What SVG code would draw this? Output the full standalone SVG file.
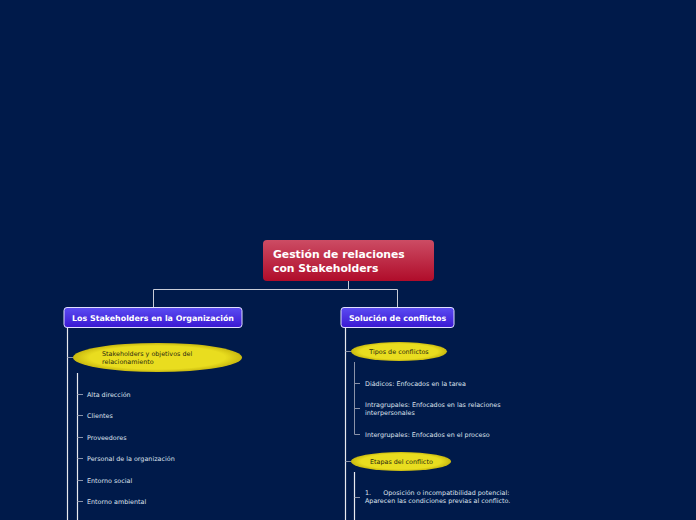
<svg xmlns="http://www.w3.org/2000/svg" width="696" height="520" viewBox="0 0 696 520">
<defs>
<linearGradient id="gRoot" x1="0" y1="0" x2="0" y2="1"><stop offset="0" stop-color="#cc4c64"/><stop offset="1" stop-color="#b00c2a"/></linearGradient>
<linearGradient id="gMain" x1="0" y1="0" x2="0" y2="1"><stop offset="0" stop-color="#5b4cf2"/><stop offset="1" stop-color="#3a18d2"/></linearGradient>
<radialGradient id="gEll" cx="0.5" cy="0.5" r="0.5"><stop offset="0.8" stop-color="#e9dd1f"/><stop offset="1" stop-color="#c9b90f"/></radialGradient>
<style>
.bg{fill:#001a4a}
.ln{stroke:#c8ccd8;stroke-width:1;fill:none}
.ln2{stroke:#e8eaf0;stroke-width:1.2;fill:none}
.tk{stroke:#8a92a8;stroke-width:1;fill:none}
.rt{font-family:"DejaVu Sans",Verdana,sans-serif;font-weight:bold;font-size:10.8px;fill:#ffffff}
.mt{font-family:"DejaVu Sans",Verdana,sans-serif;font-weight:bold;font-size:7.9px;fill:#ffffff}
.et{font-family:"DejaVu Sans",Verdana,sans-serif;font-size:6.4px;fill:#2a2a10}
.st{font-family:"DejaVu Sans",Verdana,sans-serif;font-size:6.4px;fill:#dfe3ee}
.mainbox{fill:url(#gMain);stroke:#e0e0ff;stroke-width:1}
.ell{fill:url(#gEll)}
</style>
</defs>
<rect class="bg" x="0" y="0" width="696" height="520"/>
<g id="connectors">
<path class="ln" d="M348.5 281 V289.5 H153.5 V307 M348.5 289.5 H397.5 V307"/>
<path class="ln2" d="M67.5 328 V520"/>
<path class="tk" d="M67.5 357.5 H73"/>
<path class="ln2" d="M77.5 373 V520"/>
<path class="tk" d="M77.5 394.5 H83 M77.5 415.5 H83 M77.5 437.5 H83 M77.5 458.5 H83 M77.5 480.5 H83 M77.5 501.5 H83"/>
<path class="ln2" d="M345.5 328 V520"/>
<path class="tk" d="M345.5 351.5 H351 M345.5 461.5 H351"/>
<path class="tk" d="M354.5 362 V434.5 H360 M354.5 383.5 H360 M354.5 408.5 H360"/>
<path class="ln2" d="M354.5 472 V520"/>
<path class="tk" d="M354.5 497.5 H360"/>
</g>
<g id="root">
<rect x="263" y="240" width="171" height="41" rx="4" fill="url(#gRoot)"/>
<text class="rt" x="273" y="258">Gestión de relaciones</text>
<text class="rt" x="273" y="272">con Stakeholders</text>
</g>
<g id="stakeholders">
<rect class="mainbox" x="64" y="307.5" width="178" height="20" rx="3"/>
<text class="mt" x="153" y="321" text-anchor="middle">Los Stakeholders en la Organización</text>
</g>
<g id="conflictos">
<rect class="mainbox" x="341" y="307.5" width="113" height="20" rx="3"/>
<text class="mt" x="397.5" y="321" text-anchor="middle">Solución de conflictos</text>
</g>
<g id="objetivos">
<ellipse class="ell" cx="157.5" cy="357.5" rx="84.5" ry="14.5"/>
<text class="et" x="102" y="355.5">Stakeholders y objetivos del</text>
<text class="et" x="102" y="363.5">relacionamiento</text>
</g>
<g id="alta"><text class="st" x="87" y="396.5">Alta dirección</text></g>
<g id="clientes"><text class="st" x="87" y="417.5">Clientes</text></g>
<g id="proveedores"><text class="st" x="87" y="439.5">Proveedores</text></g>
<g id="personal"><text class="st" x="87" y="460.5">Personal de la organización</text></g>
<g id="social"><text class="st" x="87" y="482.5">Entorno social</text></g>
<g id="ambiental"><text class="st" x="87" y="503.5">Entorno ambiental</text></g>
<g id="tipos">
<ellipse class="ell" cx="399" cy="351.5" rx="48" ry="9.5"/>
<text class="et" x="399" y="353.5" text-anchor="middle">Tipos de conflictos</text>
</g>
<g id="diadicos"><text class="st" x="365" y="385.5">Diádicos: Enfocados en la tarea</text></g>
<g id="intra"><text class="st" x="365" y="406.5">Intragrupales: Enfocados en las relaciones</text><text class="st" x="365" y="414.5">interpersonales</text></g>
<g id="inter"><text class="st" x="365" y="436.5">Intergrupales: Enfocados en el proceso</text></g>
<g id="etapas">
<ellipse class="ell" cx="401" cy="461.5" rx="50" ry="9.5"/>
<text class="et" x="370" y="463.5">Etapas del conflicto</text>
</g>
<g id="etapa1"><text class="st" x="365" y="494.5" xml:space="preserve">1.      Oposición o incompatibilidad potencial:</text><text class="st" x="365" y="502.5">Aparecen las condiciones previas al conflicto.</text></g>
</svg>
